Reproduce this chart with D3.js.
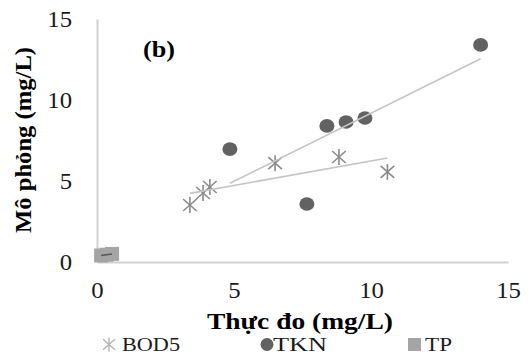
<!DOCTYPE html>
<html>
<head>
<meta charset="utf-8">
<script src="https://cdn.jsdelivr.net/npm/d3@7"></script>
<style>
  body { margin: 0; background: #fff; }
</style>
</head>
<body>
<div id="chart"></div>
<script>
// measured vs simulated values (mg/L)
var bod5X = [3.39, 3.87, 4.12, 6.5, 8.83, 10.6],
    bod5Y = [3.52, 4.26, 4.63, 6.1, 6.48, 5.56];
var tknX = [4.85, 7.66, 8.39, 9.09, 9.78, 14.0],
    tknY = [6.97, 3.58, 8.4, 8.64, 8.89, 13.4];
var tpX = [0.15, 0.35, 0.55],
    tpY = [0.4, 0.45, 0.5];
var ticks = [0, 5, 10, 15];
var legendNames = ["BOD5", "TKN", "TP"];

var width = 530, height = 355;
var margin = {top: 19, right: 22, bottom: 93, left: 97};
var serif = "Liberation Serif";

var svg = d3.select("#chart").append("svg")
    .attr("width", width)
    .attr("height", height)
    .attr("font-family", serif);

var x = d3.scaleLinear().domain([0, 15]).range([margin.left, width - margin.right]);
var y = d3.scaleLinear().domain([0, 15]).range([height - margin.bottom, margin.top]);

// axes (no tick marks, light grey lines)
var xAxis = svg.append("g")
    .attr("transform", "translate(0," + y(0) + ")")
    .call(d3.axisBottom(x).tickValues(ticks).tickSize(0).tickPadding(20).tickFormat(d3.format("d")));
var yAxis = svg.append("g")
    .attr("transform", "translate(" + x(0) + ",0)")
    .call(d3.axisLeft(y).tickValues(ticks).tickSize(0).tickPadding(25).tickFormat(d3.format("d")));

[xAxis, yAxis].forEach(function (a) {
    a.attr("font-family", serif).attr("font-size", 22.5);
    a.select(".domain").attr("stroke", "#d0d0d0").attr("stroke-width", 2);
    a.selectAll("text").attr("fill", "#1a1a1a");
});
// glyphs in the original are a little wide
xAxis.selectAll("text").attr("transform", "scale(1.1,1)");
yAxis.selectAll("text").attr("transform", "translate(-25,0) scale(1.1,1) translate(25,0)");

// least squares trendline
function fit(xs, ys) {
    var mx = d3.mean(xs), my = d3.mean(ys), sxy = 0, sxx = 0;
    xs.forEach(function (v, i) {
        sxy += (v - mx) * (ys[i] - my);
        sxx += (v - mx) * (v - mx);
    });
    var b = sxy / sxx, a = my - b * mx;
    var x0 = d3.min(xs), x1 = d3.max(xs);
    return [[x0, a + b * x0], [x1, a + b * x1]];
}

var line = d3.line()
    .x(function (d) { return x(d[0]); })
    .y(function (d) { return y(d[1]); });

// TP squares
var sq = 14;
svg.append("g").selectAll("rect")
    .data(tpX.map(function (v, i) { return [v, tpY[i]]; }))
    .enter().append("rect")
    .attr("x", function (d) { return x(d[0]) - sq / 2; })
    .attr("y", function (d) { return y(d[1]) - sq / 2; })
    .attr("width", sq)
    .attr("height", sq)
    .attr("fill", "#a5a5a5");

svg.append("path")
    .attr("d", line(fit(tpX, tpY)))
    .attr("stroke", "#555")
    .attr("stroke-width", 1.5)
    .attr("fill", "none");

// BOD5 asterisks
function star(g, s) {
    g.append("line").attr("x1", 0).attr("y1", -s).attr("x2", 0).attr("y2", s);
    g.append("line").attr("x1", -s * 0.85).attr("y1", -s * 0.75).attr("x2", s * 0.85).attr("y2", s * 0.75);
    g.append("line").attr("x1", -s * 0.85).attr("y1", s * 0.75).attr("x2", s * 0.85).attr("y2", -s * 0.75);
}

svg.append("g").selectAll("g")
    .data(bod5X.map(function (v, i) { return [v, bod5Y[i]]; }))
    .enter().append("g")
    .attr("transform", function (d) { return "translate(" + x(d[0]) + "," + y(d[1]) + ")"; })
    .attr("stroke", "#8a8a8a")
    .attr("stroke-width", 1.6)
    .each(function () { star(d3.select(this), 8); });

// TKN circles
svg.append("g").selectAll("ellipse")
    .data(tknX.map(function (v, i) { return [v, tknY[i]]; }))
    .enter().append("ellipse")
    .attr("cx", function (d) { return x(d[0]); })
    .attr("cy", function (d) { return y(d[1]); })
    .attr("rx", 7.5)
    .attr("ry", 6.8)
    .attr("fill", "#626262");

// trendlines
svg.append("path")
    .attr("d", line(fit(bod5X, bod5Y)))
    .attr("stroke", "#c4c4c4")
    .attr("stroke-width", 1.6)
    .attr("fill", "none");
svg.append("path")
    .attr("d", line(fit(tknX, tknY)))
    .attr("stroke", "#c4c4c4")
    .attr("stroke-width", 1.6)
    .attr("fill", "none");

// titles
svg.append("text")
    .attr("x", 159)
    .attr("y", 57)
    .attr("text-anchor", "middle")
    .attr("font-weight", "bold")
    .attr("font-size", 24)
    .attr("textLength", 32)
    .attr("lengthAdjust", "spacingAndGlyphs")
    .text("(b)");

svg.append("text")
    .attr("transform", "translate(31,140) rotate(-90)")
    .attr("text-anchor", "middle")
    .attr("font-weight", "bold")
    .attr("font-size", 23)
    .attr("textLength", 186)
    .attr("lengthAdjust", "spacingAndGlyphs")
    .text("Mô phỏng (mg/L)");

svg.append("text")
    .attr("x", 300)
    .attr("y", 329)
    .attr("text-anchor", "middle")
    .attr("font-weight", "bold")
    .attr("font-size", 23)
    .attr("textLength", 186)
    .attr("lengthAdjust", "spacingAndGlyphs")
    .text("Thực đo (mg/L)");

// legend
var ly = 344.5;
var leg = svg.append("g");
var lb = leg.append("g").attr("transform", "translate(109," + ly + ")")
    .attr("stroke", "#b0b0b0").attr("stroke-width", 1.3);
star(lb, 7);
leg.append("ellipse").attr("cx", 267).attr("cy", ly).attr("rx", 6.5).attr("ry", 6.5).attr("fill", "#626262");
leg.append("rect").attr("x", 408).attr("y", ly - 6.5).attr("width", 13).attr("height", 13).attr("fill", "#a5a5a5");

var legX = [122, 273, 425], legW = [58, 54, 27];
leg.selectAll("text.lg")
    .data(legendNames)
    .enter().append("text")
    .attr("class", "lg")
    .attr("x", function (d, i) { return legX[i]; })
    .attr("y", 351)
    .attr("font-size", 19.5)
    .attr("textLength", function (d, i) { return legW[i]; })
    .attr("lengthAdjust", "spacingAndGlyphs")
    .attr("fill", "#1a1a1a")
    .text(function (d) { return d; });
</script>
</body>
</html>
